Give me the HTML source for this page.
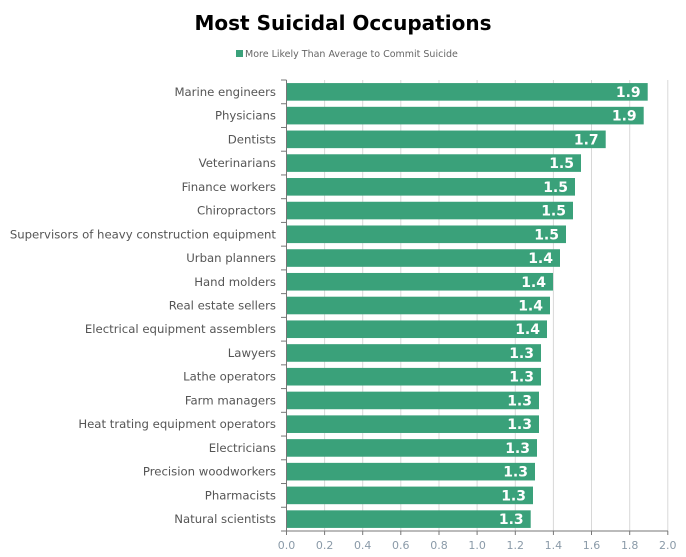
<!DOCTYPE html>
<html><head><meta charset="utf-8"><style>
html,body{margin:0;padding:0;background:#fff;}
svg{display:block;font-family:"DejaVu Sans","Liberation Sans",sans-serif;}
</style></head><body>
<svg width="686" height="557" viewBox="0 0 686 557" xmlns="http://www.w3.org/2000/svg">
<rect width="686" height="557" fill="#fff"/>
<text x="343" y="30" text-anchor="middle" font-size="20" font-weight="bold" fill="#000">Most Suicidal Occupations</text>
<rect x="236" y="50" width="7" height="7" fill="#3aa17a"/>
<text x="245" y="57" font-size="9.5" fill="#666">More Likely Than Average to Commit Suicide</text>
<g stroke="#d8d8d8" stroke-width="1">
<line x1="324.6" y1="80" x2="324.6" y2="531"/><line x1="362.7" y1="80" x2="362.7" y2="531"/>
<line x1="400.8" y1="80" x2="400.8" y2="531"/><line x1="439" y1="80" x2="439" y2="531"/>
<line x1="477.1" y1="80" x2="477.1" y2="531"/><line x1="515.3" y1="80" x2="515.3" y2="531"/>
<line x1="553.4" y1="80" x2="553.4" y2="531"/><line x1="591.5" y1="80" x2="591.5" y2="531"/>
<line x1="629.7" y1="80" x2="629.7" y2="531"/><line x1="667.8" y1="80" x2="667.8" y2="531"/>
</g>
<g fill="#3aa17a">
<rect x="286.5" y="83.07" width="361.2" height="17.6"/>
<rect x="286.5" y="106.81" width="357.2" height="17.6"/>
<rect x="286.5" y="130.54" width="319.2" height="17.6"/>
<rect x="286.5" y="154.28" width="294.5" height="17.6"/>
<rect x="286.5" y="178.02" width="288.5" height="17.6"/>
<rect x="286.5" y="201.75" width="286.5" height="17.6"/>
<rect x="286.5" y="225.49" width="279.5" height="17.6"/>
<rect x="286.5" y="249.23" width="273.5" height="17.6"/>
<rect x="286.5" y="272.96" width="266.5" height="17.6"/>
<rect x="286.5" y="296.70" width="263.5" height="17.6"/>
<rect x="286.5" y="320.44" width="260.5" height="17.6"/>
<rect x="286.5" y="344.17" width="254.5" height="17.6"/>
<rect x="286.5" y="367.91" width="254.5" height="17.6"/>
<rect x="286.5" y="391.65" width="252.5" height="17.6"/>
<rect x="286.5" y="415.38" width="252.5" height="17.6"/>
<rect x="286.5" y="439.12" width="250.5" height="17.6"/>
<rect x="286.5" y="462.86" width="248.5" height="17.6"/>
<rect x="286.5" y="486.59" width="246.5" height="17.6"/>
<rect x="286.5" y="510.33" width="244.2" height="17.6"/>
</g>
<g font-size="14" font-weight="bold" fill="#fff" text-anchor="end">
<text x="640.7" y="96.87">1.9</text>
<text x="636.7" y="120.61">1.9</text>
<text x="598.7" y="144.34">1.7</text>
<text x="574" y="168.08">1.5</text>
<text x="568" y="191.82">1.5</text>
<text x="566" y="215.55">1.5</text>
<text x="559" y="239.29">1.5</text>
<text x="553" y="263.03">1.4</text>
<text x="546" y="286.76">1.4</text>
<text x="543" y="310.50">1.4</text>
<text x="540" y="334.24">1.4</text>
<text x="534" y="357.97">1.3</text>
<text x="534" y="381.71">1.3</text>
<text x="532" y="405.45">1.3</text>
<text x="532" y="429.18">1.3</text>
<text x="530" y="452.92">1.3</text>
<text x="528" y="476.66">1.3</text>
<text x="526" y="500.39">1.3</text>
<text x="523.7" y="524.13">1.3</text>
</g>
<g font-size="11.7" fill="#555" text-anchor="end">
<text x="276" y="95.87">Marine engineers</text>
<text x="276" y="119.61">Physicians</text>
<text x="276" y="143.34">Dentists</text>
<text x="276" y="167.08">Veterinarians</text>
<text x="276" y="190.82">Finance workers</text>
<text x="276" y="214.55">Chiropractors</text>
<text x="276" y="238.29">Supervisors of heavy construction equipment</text>
<text x="276" y="262.03">Urban planners</text>
<text x="276" y="285.76">Hand molders</text>
<text x="276" y="309.50">Real estate sellers</text>
<text x="276" y="333.24">Electrical equipment assemblers</text>
<text x="276" y="356.97">Lawyers</text>
<text x="276" y="380.71">Lathe operators</text>
<text x="276" y="404.45">Farm managers</text>
<text x="276" y="428.18">Heat trating equipment operators</text>
<text x="276" y="451.92">Electricians</text>
<text x="276" y="475.66">Precision woodworkers</text>
<text x="276" y="499.39">Pharmacists</text>
<text x="276" y="523.13">Natural scientists</text>
</g>
<g stroke="#777">
<line x1="281" y1="80" x2="286.5" y2="80"/><line x1="281" y1="103.74" x2="286.5" y2="103.74"/><line x1="281" y1="127.47" x2="286.5" y2="127.47"/><line x1="281" y1="151.21" x2="286.5" y2="151.21"/><line x1="281" y1="174.95" x2="286.5" y2="174.95"/><line x1="281" y1="198.68" x2="286.5" y2="198.68"/><line x1="281" y1="222.42" x2="286.5" y2="222.42"/><line x1="281" y1="246.16" x2="286.5" y2="246.16"/><line x1="281" y1="269.89" x2="286.5" y2="269.89"/><line x1="281" y1="293.63" x2="286.5" y2="293.63"/><line x1="281" y1="317.37" x2="286.5" y2="317.37"/><line x1="281" y1="341.10" x2="286.5" y2="341.10"/><line x1="281" y1="364.84" x2="286.5" y2="364.84"/><line x1="281" y1="388.58" x2="286.5" y2="388.58"/><line x1="281" y1="412.31" x2="286.5" y2="412.31"/><line x1="281" y1="436.05" x2="286.5" y2="436.05"/><line x1="281" y1="459.79" x2="286.5" y2="459.79"/><line x1="281" y1="483.52" x2="286.5" y2="483.52"/><line x1="281" y1="507.26" x2="286.5" y2="507.26"/><line x1="281" y1="531" x2="286.5" y2="531"/>
<line x1="286.5" y1="80" x2="286.5" y2="531"/>
<line x1="286.5" y1="531" x2="668" y2="531"/>
<line x1="286.5" y1="531" x2="286.5" y2="535"/><line x1="324.6" y1="531" x2="324.6" y2="535"/><line x1="362.7" y1="531" x2="362.7" y2="535"/><line x1="400.8" y1="531" x2="400.8" y2="535"/><line x1="439" y1="531" x2="439" y2="535"/><line x1="477.1" y1="531" x2="477.1" y2="535"/><line x1="515.3" y1="531" x2="515.3" y2="535"/><line x1="553.4" y1="531" x2="553.4" y2="535"/><line x1="591.5" y1="531" x2="591.5" y2="535"/><line x1="629.7" y1="531" x2="629.7" y2="535"/><line x1="667.8" y1="531" x2="667.8" y2="535"/>
</g>
<g font-size="11" fill="#8a9aa8" text-anchor="middle">
<text x="286.5" y="549">0.0</text><text x="324.6" y="549">0.2</text><text x="362.7" y="549">0.4</text>
<text x="400.8" y="549">0.6</text><text x="439" y="549">0.8</text><text x="477.1" y="549">1.0</text>
<text x="515.3" y="549">1.2</text><text x="553.4" y="549">1.4</text><text x="591.5" y="549">1.6</text>
<text x="629.7" y="549">1.8</text><text x="667.8" y="549">2.0</text>
</g>
</svg>
</body></html>
